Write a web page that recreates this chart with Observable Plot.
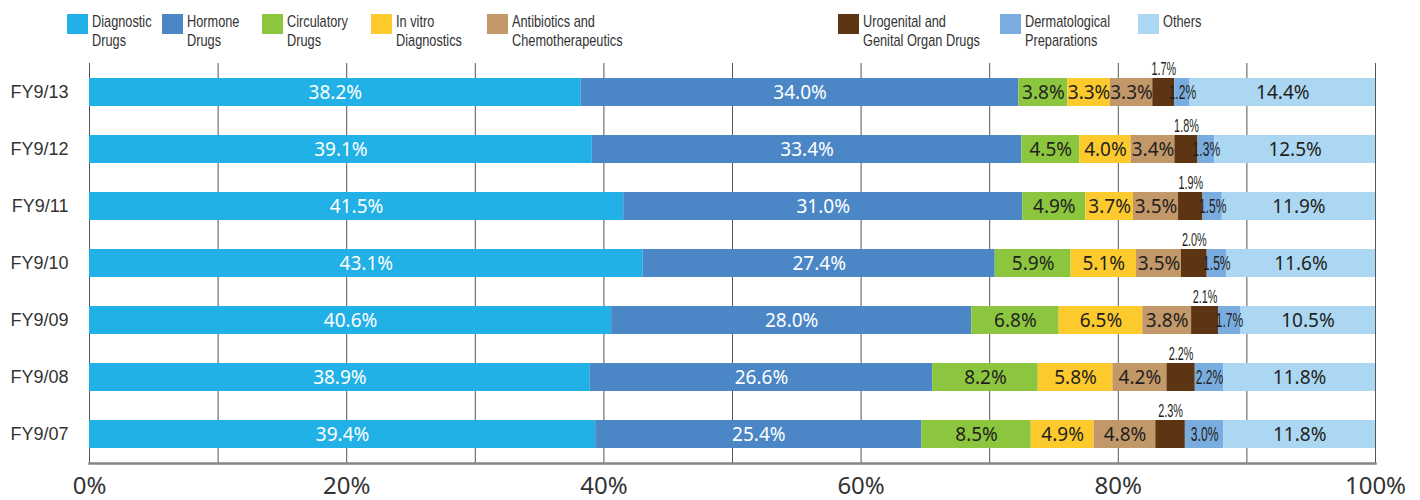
<!DOCTYPE html>
<html>
<head>
<meta charset="utf-8">
<script src="https://cdn.jsdelivr.net/npm/d3@7"></script>
<script src="https://cdn.jsdelivr.net/npm/@observablehq/plot@0.6"></script>
<style>
  html, body { margin: 0; padding: 0; background: #fff; width: 1420px; height: 500px; overflow: hidden; }
  #legend { position: relative; height: 60px; width: 1420px; font-family: "Liberation Sans", Arial, sans-serif; font-size: 17px; color: #333; }
  .item { position: absolute; top: 14px; }
  .sw { position: absolute; left: 0; top: 0; width: 21px; height: 20px; }
  .lab { position: absolute; left: 25px; top: -1px; line-height: 18.5px; white-space: nowrap; transform: scaleX(0.75); transform-origin: left top; }
  #chart svg { display: block; overflow: visible; }
</style>
</head>
<body>
<div id="legend"></div>
<div id="chart"></div>
<script>
const years = ["FY9/13", "FY9/12", "FY9/11", "FY9/10", "FY9/09", "FY9/08", "FY9/07"];
const categories = ["Diagnostic Drugs", "Hormone Drugs", "Circulatory Drugs", "In vitro Diagnostics",
  "Antibiotics and Chemotherapeutics", "Urogenital and Genital Organ Drugs", "Dermatological Preparations", "Others"];
const legendLines = [["Diagnostic", "Drugs"], ["Hormone", "Drugs"], ["Circulatory", "Drugs"], ["In vitro", "Diagnostics"],
  ["Antibiotics and", "Chemotherapeutics"], ["Urogenital and", "Genital Organ Drugs"], ["Dermatological", "Preparations"], ["Others"]];
const colors = ["#22b1e6", "#4b87c6", "#8cc63f", "#fdca2e", "#c39869", "#5e3512", "#7aaddf", "#acd7f2"];

const diagnostic     = [38.2, 39.1, 41.5, 43.1, 40.6, 38.9, 39.4];
const hormone        = [34.0, 33.4, 31.0, 27.4, 28.0, 26.6, 25.4];
const circulatory    = [3.8, 4.5, 4.9, 5.9, 6.8, 8.2, 8.5];
const inVitro        = [3.3, 4.0, 3.7, 5.1, 6.5, 5.8, 4.9];
const antibiotics    = [3.3, 3.4, 3.5, 3.5, 3.8, 4.2, 4.8];
const urogenital     = [1.7, 1.8, 1.9, 2.0, 2.1, 2.2, 2.3];
const dermatological = [1.2, 1.3, 1.5, 1.5, 1.7, 2.2, 3.0];
const others         = [14.4, 12.5, 11.9, 11.6, 10.5, 11.8, 11.8];

const series = [diagnostic, hormone, circulatory, inVitro, antibiotics, urogenital, dermatological, others];
const xTicks = [0, 0.2, 0.4, 0.6, 0.8, 1.0];
const gridTicks = [0, 0.1, 0.2, 0.3, 0.4, 0.5, 0.6, 0.7, 0.8, 0.9, 1.0];

const data = [];
series.forEach((vals, i) => vals.forEach((v, j) => data.push({year: years[j], cat: categories[i], value: v})));

// legend
const legendX = [67, 162, 262, 371, 487, 838, 1000, 1138];
const legend = document.getElementById("legend");
categories.forEach((c, i) => {
  const it = document.createElement("div");
  it.className = "item";
  it.style.left = legendX[i] + "px";
  it.innerHTML = `<div class="sw" style="background:${colors[i]}"></div><div class="lab">${legendLines[i].join("<br>")}</div>`;
  legend.appendChild(it);
});

const fmt = d => d.value.toFixed(1) + "%";
const stackOpts = (extra) => Plot.stackX({x: "value", y: "year", z: "cat", offset: "normalize", order: categories, ...extra});
const pick = (set) => d => set.includes(d.cat) ? fmt(d) : "";
const SANS = "Noto Sans, sans-serif";
const NARROW = "Liberation Sans, Arial, sans-serif";
const DERM_SIZE = 19.5, URO_SIZE = 17.5;

const chart = Plot.plot({
  width: 1420,
  height: 440,
  marginLeft: 89,
  marginRight: 45,
  marginTop: 3,
  marginBottom: 37,
  style: {background: "transparent", color: "#333"},
  x: {domain: [0, 1], label: null},
  y: {domain: years, paddingInner: 0.51, paddingOuter: 0.255, label: null},
  color: {domain: categories, range: colors},
  marks: [
    Plot.gridX(gridTicks, {stroke: "#555", strokeOpacity: 1, strokeWidth: 1}),
    Plot.barX(data, stackOpts({fill: "cat", inset: 0})),
    Plot.frame({anchor: "bottom", stroke: "#858585", strokeWidth: 2.5}),
    Plot.axisY({tickSize: 0, tickPadding: 21, fontSize: 18, fontFamily: NARROW, color: "#333"}),
    Plot.axisX({ticks: xTicks, tickSize: 0, tickPadding: 13, fontSize: 24, tickFormat: d3.format(".0%"),
      fontFamily: SANS, color: "#333"}),
    Plot.text(data, stackOpts({text: pick(["Diagnostic Drugs", "Hormone Drugs"]), fill: "#fff",
      fontSize: 19, fontFamily: SANS})),
    Plot.text(data, stackOpts({text: pick(["Circulatory Drugs", "In vitro Diagnostics", "Antibiotics and Chemotherapeutics", "Others"]),
      fill: "#231f20", fontSize: 19, fontFamily: SANS})),
    Plot.text(data, stackOpts({text: pick(["Dermatological Preparations"]), fill: "#231f20",
      fontSize: DERM_SIZE, fontFamily: NARROW})),
    Plot.text(data, stackOpts({text: pick(["Urogenital and Genital Organ Drugs"]), fill: "#231f20", dy: -23,
      fontSize: URO_SIZE, fontFamily: NARROW}))
  ]
});

// horizontally condense a group's labels around their anchor points (keeps Plot's em-based y offsets)
function squeeze(svg, size, s) {
  d3.select(svg).selectAll(`g[font-size="${size}"] text`).each(function() {
    const t = this.getAttribute("transform") || "";
    const xa = this.getAttribute("x");
    const x = xa != null && !isNaN(+xa) ? +xa : 0;
    if (xa != null && !isNaN(+xa)) this.removeAttribute("x");
    this.setAttribute("transform", `${t} translate(${x},0) scale(${s},1)`);
  });
}
squeeze(chart, DERM_SIZE, 0.62);
squeeze(chart, URO_SIZE, 0.62);

document.getElementById("chart").appendChild(chart);
</script>
</body>
</html>
